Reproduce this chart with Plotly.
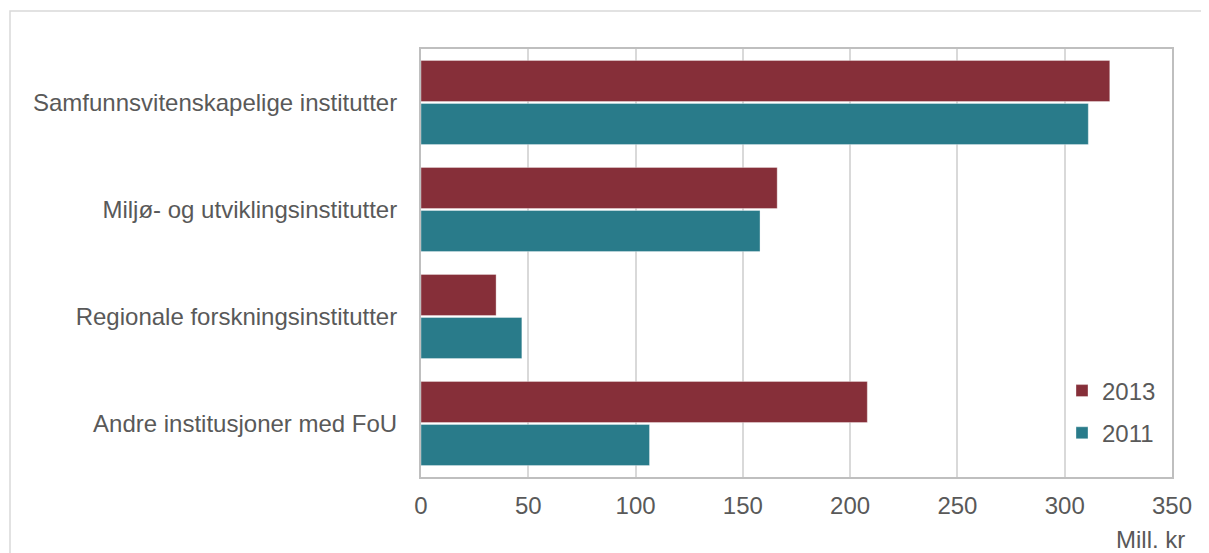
import plotly.graph_objects as go

categories = [
    "Samfunnsvitenskapelige institutter",
    "Miljø- og utviklingsinstitutter",
    "Regionale forskningsinstitutter",
    "Andre institusjoner med FoU",
]
values_2013 = [321, 166, 35, 208]
values_2011 = [311, 158, 47, 106.5]
x_ticks = [0, 50, 100, 150, 200, 250, 300, 350]

FONT = "Liberation Sans, Arial, sans-serif"
TXT = "#595959"

fig = go.Figure()
fig.add_trace(go.Bar(
    y=categories, x=values_2013, name="2013", orientation="h",
    marker=dict(color="#862F39", line=dict(color="rgba(255,255,255,0.35)", width=1)),
    legendgroup="a",
))
fig.add_trace(go.Bar(
    y=categories, x=values_2011, name="2011", orientation="h",
    marker=dict(color="#297B8A", line=dict(color="rgba(255,255,255,0.35)", width=1)),
    legendgroup="b",
))

OFF = 8  # page body margin
W, H = 1209 - OFF, 553 - OFF
L, R, T, B = 421 - OFF, 37, 49 - OFF, 76
pw = W - L - R
ph = H - T - B

def px_x(x):
    return (x - OFF - L) / pw

def px_y(y):
    return 1 - (y - OFF - T) / ph

fig.update_layout(
    width=W, height=H,
    margin=dict(l=L, r=R, t=T, b=B),
    paper_bgcolor="white", plot_bgcolor="white",
    barmode="group", bargap=0.194, bargroupgap=0.047,
    font=dict(family=FONT, size=24, color=TXT),
    showlegend=True,
    legend=dict(
        x=px_x(1062), xanchor="left",
        y=px_y(412), yanchor="middle",
        traceorder="grouped", tracegroupgap=8,
        font=dict(family=FONT, size=24, color=TXT),
        bgcolor="rgba(0,0,0,0)",
    ),
    xaxis=dict(
        range=[0, 350], tickvals=x_ticks, ticktext=[str(v) for v in x_ticks],
        showgrid=True, gridcolor="#D9D9D9", gridwidth=1.5,
        showline=True, linecolor="#BFBFBF", linewidth=2, mirror=True,
        zeroline=False, ticks="", ticklabelstandoff=6,
        tickfont=dict(family=FONT, size=24, color=TXT),
    ),
    yaxis=dict(
        autorange="reversed", type="category",
        showline=True, linecolor="#BFBFBF", linewidth=2, mirror=True,
        showgrid=False, zeroline=False, ticks="", ticklabelstandoff=17,
        tickfont=dict(family=FONT, size=24, color=TXT),
    ),
    annotations=[dict(
        text="Mill. kr", xref="paper", yref="paper",
        x=px_x(1187), xanchor="right",
        y=px_y(539), yanchor="middle",
        showarrow=False, font=dict(family=FONT, size=24, color=TXT),
    )],
    shapes=[dict(
        type="rect", xref="paper", yref="paper",
        x0=px_x(10), x1=px_x(1220),
        y0=px_y(580), y1=px_y(11),
        line=dict(color="#D9D9D9", width=1.5), fillcolor="rgba(0,0,0,0)",
        layer="below",
    )],
)

fig.write_html("out.html")
